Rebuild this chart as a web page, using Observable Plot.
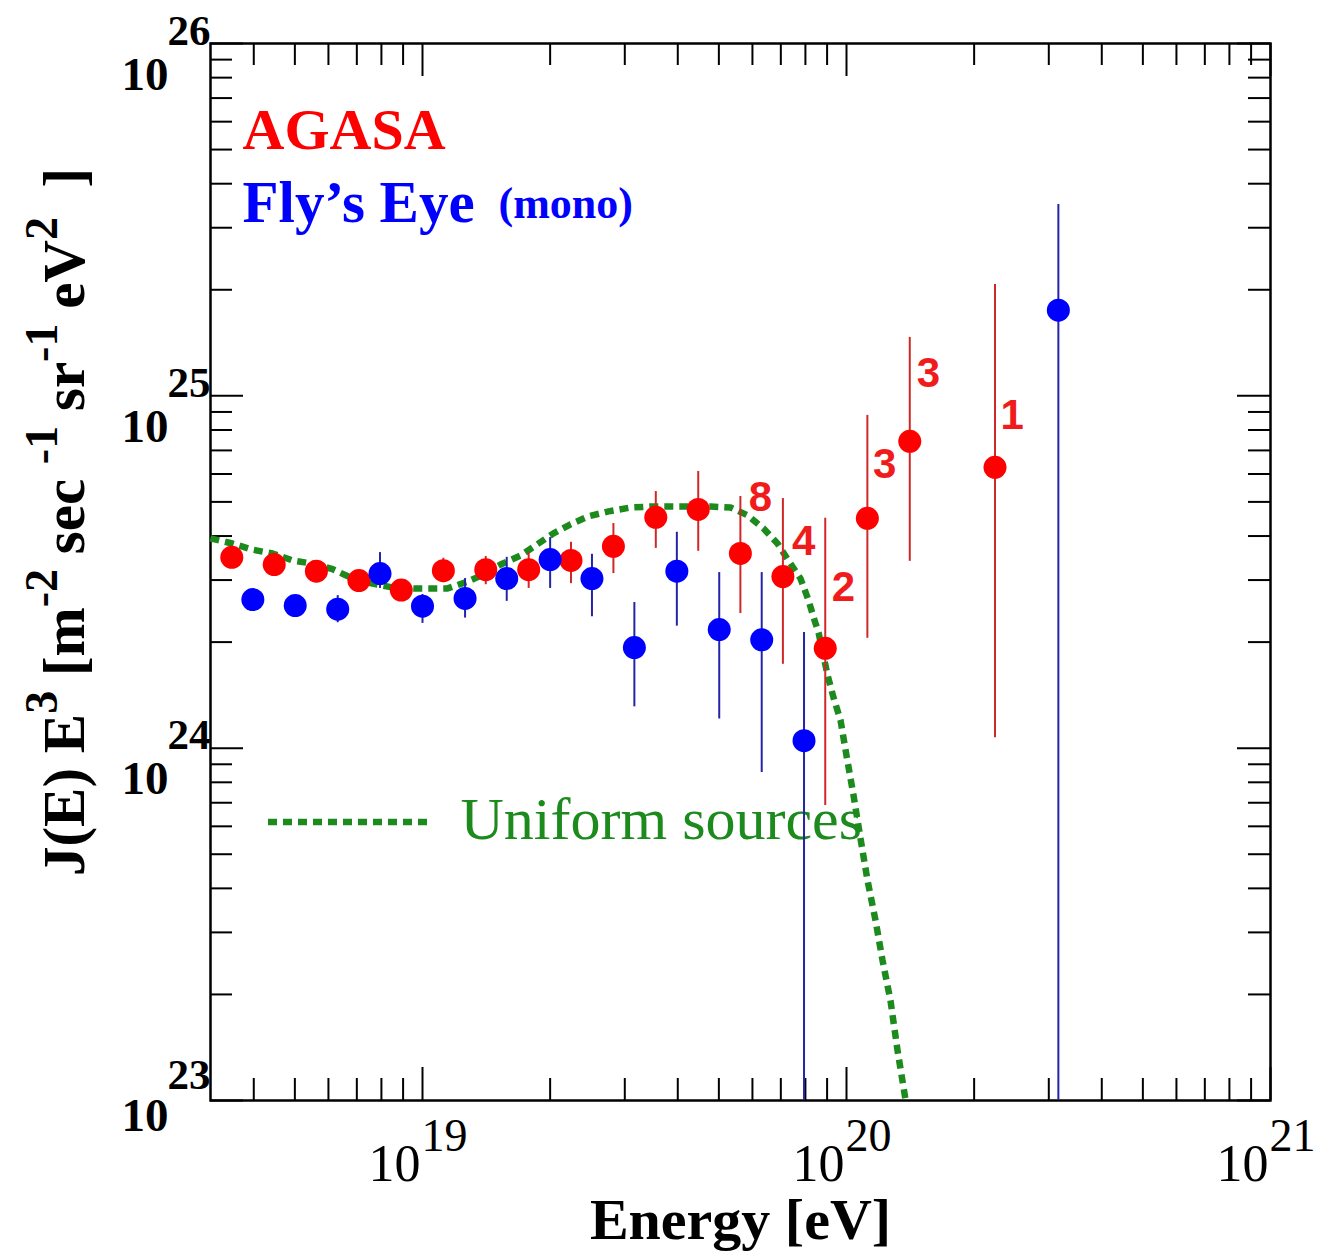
<!DOCTYPE html>
<html>
<head>
<meta charset="utf-8">
<script src="https://cdn.jsdelivr.net/npm/d3@7"></script>
<script src="https://cdn.jsdelivr.net/npm/@observablehq/plot@0.6"></script>
<style>
  html, body { margin: 0; padding: 0; background: #fff; }
</style>
</head>
<body>
<div id="chart"></div>
<script>
// ---------- data ----------
const agasaE  = [3.55e18, 4.47e18, 5.62e18, 7.08e18, 8.91e18, 1.12e19, 1.41e19, 1.78e19, 2.24e19, 2.82e19, 3.55e19, 4.47e19, 5.62e19, 7.08e19, 8.91e19, 1.12e20, 1.41e20, 2.24e20];
const agasaJ  = [3.48e24, 3.32e24, 3.18e24, 2.99e24, 2.81e24, 3.19e24, 3.21e24, 3.21e24, 3.41e24, 3.74e24, 4.52e24, 4.76e24, 3.57e24, 3.07e24, 1.92e24, 4.49e24, 7.43e24, 6.27e24];
const agasaHi = [3.66e24, 3.50e24, 3.34e24, 3.18e24, 2.99e24, 3.46e24, 3.50e24, 3.59e24, 3.84e24, 4.34e24, 5.35e24, 6.10e24, 5.18e24, 5.11e24, 4.49e24, 8.80e24, 1.465e25, 2.07e25];
const agasaLo = [3.30e24, 3.15e24, 3.01e24, 2.82e24, 2.63e24, 2.95e24, 2.91e24, 2.84e24, 2.93e24, 3.13e24, 3.69e24, 3.62e24, 2.41e24, 1.73e24, 6.88e23, 2.05e24, 3.39e24, 1.07e24];

const flyE  = [3.98e18, 5.01e18, 6.31e18, 7.94e18, 1.0e19, 1.26e19, 1.58e19, 2.0e19, 2.51e19, 3.16e19, 3.98e19, 5.01e19, 6.31e19, 7.94e19, 3.16e20];
const flyJ  = [2.64e24, 2.54e24, 2.48e24, 3.13e24, 2.53e24, 2.66e24, 3.03e24, 3.43e24, 3.03e24, 1.93e24, 3.18e24, 2.17e24, 2.03e24, 1.05e24, 1.75e25];
const flyHi = [2.77e24, 2.68e24, 2.71e24, 3.59e24, 2.73e24, 3.03e24, 3.48e24, 3.96e24, 3.55e24, 2.59e24, 4.10e24, 3.15e24, 3.15e24, 2.13e24, 3.49e25];
const flyLo = [2.53e24, 2.41e24, 2.27e24, 2.84e24, 2.26e24, 2.34e24, 2.61e24, 2.84e24, 2.36e24, 1.31e24, 2.22e24, 1.21e24, 8.53e23, 1e23, 1e23];

const modelE = [3.16e18, 3.56e18, 3.97e18, 4.43e18, 4.94e18, 5.51e18, 6.14e18, 6.69e18, 7.62e18, 8.49e18, 9.53e18, 1.028e19, 1.146e19, 1.277e19, 1.393e19, 1.528e19, 1.703e19, 1.866e19, 2.036e19, 2.234e19, 2.464e19, 2.748e19, 3.097e19, 3.452e19, 3.848e19, 4.289e19, 4.781e19, 5.329e19, 5.843e19, 6.373e19, 6.875e19, 7.296e19, 7.79e19, 8.135e19, 8.364e19, 8.598e19, 9.025e19, 9.322e19, 9.68e19, 1.0e20, 1.039e20, 1.079e20, 1.121e20, 1.171e20, 1.216e20, 1.27e20, 1.319e20, 1.377e20];
const modelJ = [3.94e24, 3.81e24, 3.66e24, 3.57e24, 3.41e24, 3.34e24, 3.22e24, 3.07e24, 2.93e24, 2.86e24, 2.84e24, 2.84e24, 2.84e24, 2.97e24, 3.11e24, 3.32e24, 3.52e24, 3.79e24, 4.07e24, 4.32e24, 4.55e24, 4.70e24, 4.82e24, 4.85e24, 4.85e24, 4.85e24, 4.85e24, 4.82e24, 4.58e24, 4.20e24, 3.81e24, 3.41e24, 3.03e24, 2.63e24, 2.35e24, 2.12e24, 1.61e24, 1.39e24, 1.20e24, 9.53e23, 7.34e23, 5.54e23, 4.21e23, 3.24e23, 2.50e23, 1.92e23, 1.39e23, 1.01e23];

const countE     = [6.27e19, 7.93e19, 9.84e19, 1.23e20, 1.56e20, 2.46e20];
const countJ     = [5.15e24, 3.86e24, 2.86e24, 6.38e24, 1.16e25, 8.79e24];
const countLabel = ["8", "4", "2", "3", "3", "1"];

const xDomain = [3.1623e18, 1e21];
const yDomain = [1e23, 1e26];
const xMajor = [1e19, 1e20, 1e21];
const xMajorExp = ["19", "20", "21"];
const yMajor = [1e23, 1e24, 1e25, 1e26];
const yMajorExp = ["23", "24", "25", "26"];

const seriesNames = ["AGASA", "Fly\u2019s Eye", "(mono)", "Uniform sources"];
const xTitle = "Energy [eV]";

// ---------- tables ----------
const agasa = agasaE.map((E, i) => ({E, J: agasaJ[i], lo: agasaLo[i], hi: agasaHi[i]}));
const fly = flyE.map((E, i) => ({E, J: flyJ[i], lo: flyLo[i], hi: flyHi[i]}));
const model = modelE.map((E, i) => ({E, J: modelJ[i]}));
const counts = countE.map((E, i) => ({E, J: countJ[i], t: countLabel[i]}));
const xMinor = [];
for (let n = 18; n <= 20; n++) for (let k = 2; k <= 9; k++) { const v = k * 10 ** n; if (v > xDomain[0] && v < xDomain[1]) xMinor.push(v); }
const yMinor = [];
for (let n = 23; n <= 25; n++) for (let k = 2; k <= 9; k++) yMinor.push(k * 10 ** n);
const xTicks = xMajor.map((v, i) => ({v, e: xMajorExp[i]}));
const yTicks = yMajor.map((v, i) => ({v, e: yMajorExp[i]}));
const yTicksBottom = yTicks.filter(d => d.v === yDomain[0]);
const yTicksOther = yTicks.filter(d => d.v !== yDomain[0]);

// ---------- layout ----------
const W = 1325, H = 1251;
const mL = 210, mR = 55, mT = 43, mB = 151;
const fW = W - mL - mR, fH = H - mT - mB;
const minorLen = 22, majorLen = 33;
const serif = "'Liberation Serif', 'Times New Roman', serif";
const sans = "'Liberation Sans', Arial, sans-serif";
const RED = "#ff0000", RED_BAR = "#d02828", BLUE = "#0000ff", BLUE_BAR = "#2424a8", GREEN = "#1c8a1c";

const yLabelStyle = {fontFamily: serif, fontWeight: "bold", fill: "black", lineAnchor: "bottom", textAnchor: "end", frameAnchor: "left"};

const plot = Plot.plot({
  width: W, height: H,
  marginLeft: mL, marginRight: mR, marginTop: mT, marginBottom: mB,
  x: {type: "log", domain: xDomain, axis: null},
  y: {type: "log", domain: yDomain, axis: null},
  style: {background: "#fff"},
  marks: [
    // tick marks on all four sides, pointing inwards
    Plot.tickX(xMinor, {x: d => d, insetTop: fH - minorLen, stroke: "black", strokeWidth: 2}),
    Plot.tickX(xMinor, {x: d => d, insetBottom: fH - minorLen, stroke: "black", strokeWidth: 2}),
    Plot.tickX(xMajor, {x: d => d, insetTop: fH - majorLen, stroke: "black", strokeWidth: 2}),
    Plot.tickX(xMajor, {x: d => d, insetBottom: fH - majorLen, stroke: "black", strokeWidth: 2}),
    Plot.tickY(yMinor, {y: d => d, insetRight: fW - minorLen, stroke: "black", strokeWidth: 2}),
    Plot.tickY(yMinor, {y: d => d, insetLeft: fW - minorLen, stroke: "black", strokeWidth: 2}),
    Plot.tickY(yMajor, {y: d => d, insetRight: fW - majorLen, stroke: "black", strokeWidth: 2}),
    Plot.tickY(yMajor, {y: d => d, insetLeft: fW - majorLen, stroke: "black", strokeWidth: 2}),
    Plot.frame({stroke: "black", strokeWidth: 2.5}),

    // x tick labels
    Plot.text(xTicks, {x: "v", frameAnchor: "bottom", text: () => "10", textAnchor: "end", lineAnchor: "bottom",
      dx: -2, dy: 80, fontFamily: serif, fontSize: 52, fill: "black"}),
    Plot.text(xTicks, {x: "v", frameAnchor: "bottom", text: "e", textAnchor: "start", lineAnchor: "bottom",
      dx: -1, dy: 50, fontFamily: serif, fontSize: 46, fill: "black"}),
    // y tick labels
    Plot.text(yTicksOther, {y: "v", text: () => "10", dx: -42, dy: 46, fontSize: 47, ...yLabelStyle}),
    Plot.text(yTicksOther, {y: "v", text: "e", dx: 0, dy: 1, fontSize: 43, ...yLabelStyle}),
    Plot.text(yTicksBottom, {y: "v", text: () => "10", dx: -42, dy: 30, fontSize: 47, ...yLabelStyle}),
    Plot.text(yTicksBottom, {y: "v", text: "e", dx: 0, dy: -12, fontSize: 43, ...yLabelStyle}),

    // axis title (x)
    Plot.text([xTitle], {frameAnchor: "bottom", text: d => d, lineAnchor: "bottom", dy: 138,
      fontFamily: serif, fontWeight: "bold", fontSize: 58, fill: "black"}),

    // legend texts
    Plot.text([seriesNames[0]], {frameAnchor: "top-left", text: d => d, textAnchor: "start", lineAnchor: "bottom",
      dx: 32, dy: 105, fontFamily: serif, fontWeight: "bold", fontSize: 58, fill: RED}),
    Plot.text([seriesNames[1]], {frameAnchor: "top-left", text: d => d, textAnchor: "start", lineAnchor: "bottom",
      dx: 32, dy: 178, fontFamily: serif, fontWeight: "bold", fontSize: 59, fill: BLUE}),
    Plot.text([seriesNames[2]], {frameAnchor: "top-left", text: d => d, textAnchor: "start", lineAnchor: "bottom",
      dx: 288, dy: 174, fontFamily: serif, fontWeight: "bold", fontSize: 44, fill: BLUE}),
    Plot.text([seriesNames[3]], {frameAnchor: "top-left", text: d => d, textAnchor: "start", lineAnchor: "bottom",
      dx: 250, dy: 795, fontFamily: serif, fontSize: 60, fill: GREEN}),

    // model curve
    Plot.line(model, {x: "E", y: "J", stroke: GREEN, strokeWidth: 6.5, strokeDasharray: "9,6", strokeLinecap: "butt"}),

    // error bars
    Plot.ruleX(agasa, {x: "E", y1: "lo", y2: "hi", stroke: RED_BAR, strokeWidth: 2}),
    Plot.ruleX(fly, {x: "E", y1: "lo", y2: "hi", stroke: BLUE_BAR, strokeWidth: 2}),

    // points
    Plot.dot(agasa, {x: "E", y: "J", r: 11.5, fill: RED, stroke: null}),
    Plot.dot(fly, {x: "E", y: "J", r: 11.5, fill: BLUE, stroke: null}),

    // event counts
    Plot.text(counts, {x: "E", y: "J", text: "t", fontFamily: sans, fontWeight: "bold", fontSize: 42, fill: "#f01c1c"})
  ]
});

// legend swatch and y title
const svg = d3.select(plot);
svg.append("line")
  .attr("x1", mL + 58).attr("x2", mL + 218)
  .attr("y1", mT + 779).attr("y2", mT + 779)
  .attr("stroke", GREEN).attr("stroke-width", 6.5).attr("stroke-dasharray", "9,6");

const yt = svg.append("text")
  .attr("transform", `translate(84, 522) rotate(-90)`)
  .attr("text-anchor", "middle")
  .attr("font-family", serif).attr("font-weight", "bold").attr("font-size", 59).attr("fill", "black");
const supSize = 46, supRise = 27;
const parts = [
  ["J(E) E", false], ["3", true], [" [m", false], ["-2", true], [" sec ", false], ["-1", true],
  [" sr", false], ["-1", true], [" eV", false], ["2", true], ["  ]", false]
];
let raised = false;
parts.forEach(([t, sup]) => {
  const ts = yt.append("tspan").text(t);
  if (sup) { ts.attr("dy", -supRise).attr("font-size", supSize); raised = true; }
  else if (raised) { ts.attr("dy", supRise); raised = false; }
});

document.getElementById("chart").appendChild(plot);
</script>
</body>
</html>
